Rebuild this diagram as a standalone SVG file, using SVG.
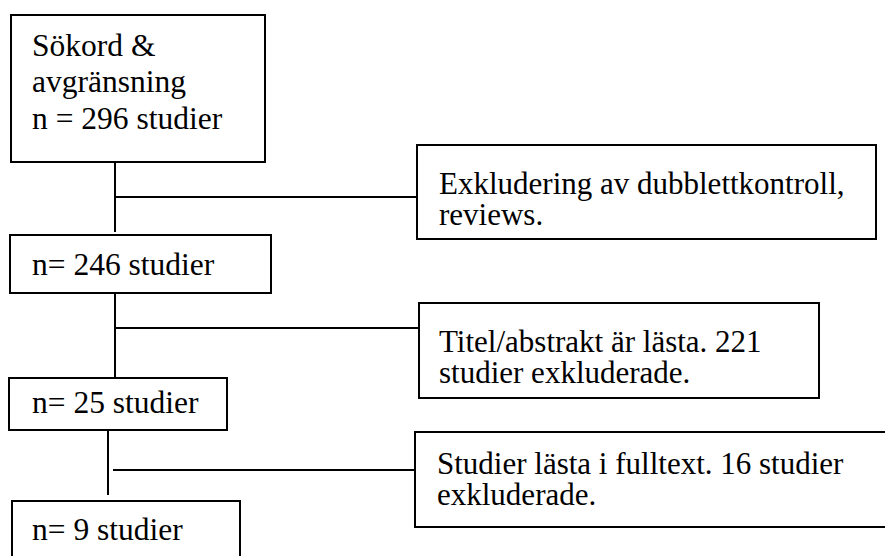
<svg xmlns="http://www.w3.org/2000/svg" width="885" height="556" viewBox="0 0 885 556">
<style>
.box{fill:#fff;stroke:#000;stroke-width:2}
.t{font-family:"Liberation Serif","Times New Roman",serif;font-size:31.5px;fill:#000}
.r{font-size:31px}
.c line{stroke:#000;stroke-width:2}
</style>
<rect width="885" height="556" fill="#fff"/>
<g class="c" id="connectors">
<line x1="115" y1="162" x2="115" y2="232"/>
<line x1="115" y1="197" x2="417" y2="197"/>
<line x1="115" y1="293" x2="115" y2="378"/>
<line x1="115" y1="328" x2="419" y2="328"/>
<line x1="108" y1="430" x2="108" y2="495"/>
<line x1="113" y1="470" x2="415" y2="470"/>
</g>
<g id="n1">
<rect class="box" x="11" y="15" width="254" height="147"/>
<text class="t" x="32" y="56">Sökord &amp;</text>
<text class="t" x="32" y="92">avgränsning</text>
<text class="t" x="32" y="129">n = 296 studier</text>
</g>
<g id="n2">
<rect class="box" x="10" y="235" width="261" height="58"/>
<text class="t" x="32" y="275">n= 246 studier</text>
</g>
<g id="n3">
<rect class="box" x="9" y="378" width="218" height="52"/>
<text class="t" x="32" y="413">n= 25 studier</text>
</g>
<g id="n4">
<rect class="box" x="12" y="501" width="228" height="70"/>
<text class="t" x="32" y="540">n= 9 studier</text>
</g>
<g id="e1">
<rect class="box" x="417" y="145" width="459" height="94"/>
<text class="t r" x="439" y="194">Exkludering av dubblettkontroll,</text>
<text class="t r" x="439" y="225">reviews.</text>
</g>
<g id="e2">
<rect class="box" x="419" y="303" width="400" height="95"/>
<text class="t r" x="439" y="352">Titel/abstrakt är lästa. 221</text>
<text class="t r" x="439" y="383">studier exkluderade.</text>
</g>
<g id="e3">
<rect class="box" x="415" y="432" width="490" height="95"/>
<text class="t r" x="437" y="474">Studier lästa i fulltext. 16 studier</text>
<text class="t r" x="437" y="505">exkluderade.</text>
</g>
</svg>
